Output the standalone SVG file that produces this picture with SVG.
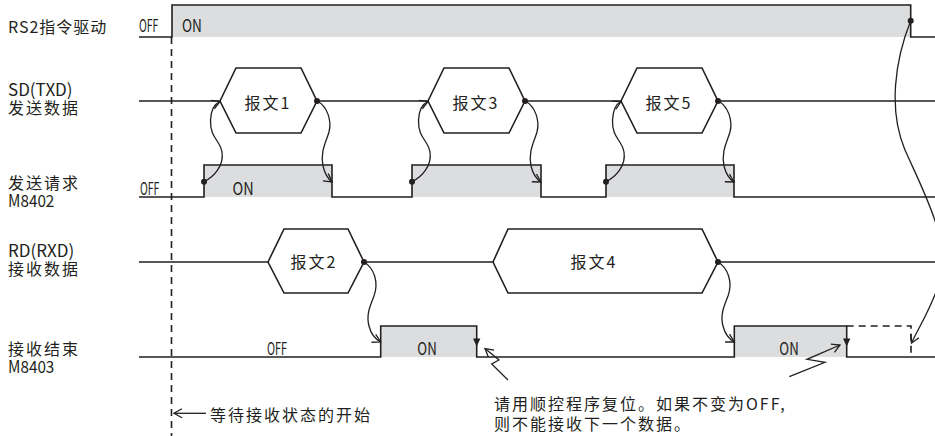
<svg xmlns="http://www.w3.org/2000/svg" width="935" height="436" viewBox="0 0 935 436">
<style>
.sig{fill:none;stroke:#231f20;stroke-width:1.6}
.gray{fill:#dcdddf;stroke:none}
.hex{fill:#fff;stroke:#231f20;stroke-width:1.6}
.wav{fill:none;stroke:#231f20;stroke-width:1.3;marker-end:url(#open)}
.dash{fill:none;stroke:#231f20;stroke-width:1.6;stroke-dasharray:7 5}
.dot{fill:#231f20}
text{font-family:"Noto Sans CJK SC","Liberation Sans",sans-serif;fill:#231f20}
.lbl{font-size:16px;letter-spacing:2px}
.lat{font-size:17px}
.st{font-size:17px}
.mid{text-anchor:middle}
</style>
<defs>
<marker id="open" markerUnits="userSpaceOnUse" markerWidth="12" markerHeight="12" refX="10" refY="6" orient="auto">
<path d="M2,1.5 L10,6 L2,10.5" fill="none" stroke="#231f20" stroke-width="1.3"/>
</marker>
</defs>

<g id="labels">
<text class="lbl" x="8" y="33" style="letter-spacing:1px">RS2指令驱动</text>
<text class="lat" x="8" y="96">SD(TXD)</text>
<text class="lbl" x="8" y="114">发送数据</text>
<text class="lbl" x="8" y="189">发送请求</text>
<text class="lat" transform="translate(8,207) scale(0.9,1)">M8402</text>
<text class="lat" x="8" y="257">RD(RXD)</text>
<text class="lbl" x="8" y="275">接收数据</text>
<text class="lbl" x="8" y="355">接收结束</text>
<text class="lat" transform="translate(8,373) scale(0.9,1)">M8403</text>
</g>

<g id="rs2">
<rect class="gray" x="172" y="5" width="738.7" height="32"/>
<path class="sig" d="M139,37 H172 V5 H910.7 V37 H935"/>
<text class="st" transform="translate(139,32) scale(0.62,1)">OFF</text>
<text class="st" transform="translate(182,32) scale(0.8,1)">ON</text>
</g>

<g id="sd">
<path class="sig" d="M139,101 H220 M317,101 H428 M525,101 H621 M718,101 H935"/>
<g id="msg1">
<polygon class="hex" points="220,101 236,68 301,68 317,101 301,133 236,133"/>
<text class="lbl mid" x="268" y="109">报文1</text>
</g>
<g id="msg3">
<polygon class="hex" points="428,101 444,68 509,68 525,101 509,133 444,133"/>
<text class="lbl mid" x="476" y="109">报文3</text>
</g>
<g id="msg5">
<polygon class="hex" points="621,101 637,68 702,68 718,101 702,133 637,133"/>
<text class="lbl mid" x="669" y="109">报文5</text>
</g>
</g>

<g id="m8402">
<rect class="gray" x="204" y="165" width="128" height="32"/>
<rect class="gray" x="412" y="165" width="129" height="32"/>
<rect class="gray" x="606" y="165" width="128" height="32"/>
<path class="sig" d="M139,197 H204 V165 H332 V197 H412 V165 H541 V197 H606 V165 H734 V197 H935"/>
<text class="st" transform="translate(140,195) scale(0.62,1)">OFF</text>
<text class="st mid" transform="translate(243,195) scale(0.85,1)">ON</text>
</g>

<g id="rd">
<path class="sig" d="M139,262 H268 M364,262 H493 M718,262 H935"/>
<g id="msg2">
<polygon class="hex" points="268,262 284,229 348,229 364,262 348,293 284,293"/>
<text class="lbl mid" x="314" y="268">报文2</text>
</g>
<g id="msg4">
<polygon class="hex" points="493,262 508,229 702,229 718,262 702,293 508,293"/>
<text class="lbl mid" x="594" y="268">报文4</text>
</g>
</g>

<g id="m8403">
<rect class="gray" x="380.7" y="326" width="96" height="31"/>
<rect class="gray" x="734.3" y="326" width="112.4" height="31"/>
<path class="sig" d="M139,357 H380.7 V326 H476.7 V357 H734.3 V326 H846.7 V357 H935"/>
<path class="dash" d="M846.7,326 H911 V357"/>
<polygon class="dot" points="473,338.5 480.4,338.5 476.7,346.5"/>
<polygon class="dot" points="843,338.5 850.4,338.5 846.7,346.5"/>
<text class="st mid" transform="translate(277,355) scale(0.64,1)">OFF</text>
<text class="st mid" transform="translate(427,355) scale(0.78,1)">ON</text>
<text class="st mid" transform="translate(789,355) scale(0.78,1)">ON</text>
</g>

<g id="connectors">
<path class="dash" d="M171.5,37 V436"/>
<path class="wav" d="M204,181.7 C215,176 224,165 222,152 C220,140 210,138 210.5,120 C211,110 214,104 220,101.5"/>
<path class="wav" d="M412,181.7 C423,176 432,165 430,152 C428,140 418,138 418.5,120 C419,110 422,104 428,101.5"/>
<path class="wav" d="M606,181.7 C617,176 626,165 624,152 C622,140 612,138 612.5,120 C613,110 616,104 621,101.5"/>
<path class="wav" d="M317,101 C327,106 332,120 329,132 C326,142 320,152 323,166 C325,174 328,179 332,182"/>
<path class="wav" d="M525,101 C535,106 540,120 537,132 C534,142 528,152 531,166 C533,174 536,179 541,182"/>
<path class="wav" d="M718,101 C728,106 733,120 730,132 C727,142 721,152 724,166 C726,174 729,179 734,182"/>
<path class="wav" d="M364,262 C374,268 379,282 374,296 C370,306 366,315 369,326 C371,334 375,339 380.7,342"/>
<path class="wav" d="M718,262 C728,268 733,282 728,296 C724,306 720,315 723,326 C725,334 729,339 734.3,342"/>
<path class="wav" d="M910.7,20.7 C895,60 888,110 905,150 C925,195 950,240 940,280 C933,305 920,325 911.5,343"/>
<circle class="dot" cx="204" cy="181.7" r="3"/>
<circle class="dot" cx="412" cy="181.7" r="3"/>
<circle class="dot" cx="606" cy="181.7" r="3"/>
<circle class="dot" cx="317" cy="101" r="3"/>
<circle class="dot" cx="525" cy="101" r="3"/>
<circle class="dot" cx="718" cy="101" r="3"/>
<circle class="dot" cx="364" cy="262" r="3"/>
<circle class="dot" cx="718" cy="262" r="3"/>
<circle class="dot" cx="910.7" cy="20.7" r="3"/>
<path class="wav" d="M508,380 L491.7,364 L499,360 L485,348.5"/>
<path class="wav" d="M789.3,376.7 L825,362.3 L807,359.3 L840,345"/>
<path class="wav" d="M206,413.3 H174"/>
</g>

<g id="notes">
<text class="lbl" x="210" y="421">等待接收状态的开始</text>
<text class="lbl" x="494" y="410">请用顺控程序复位。如果不变为OFF,</text>
<text class="lbl" x="494" y="430">则不能接收下一个数据。</text>
</g>
</svg>
